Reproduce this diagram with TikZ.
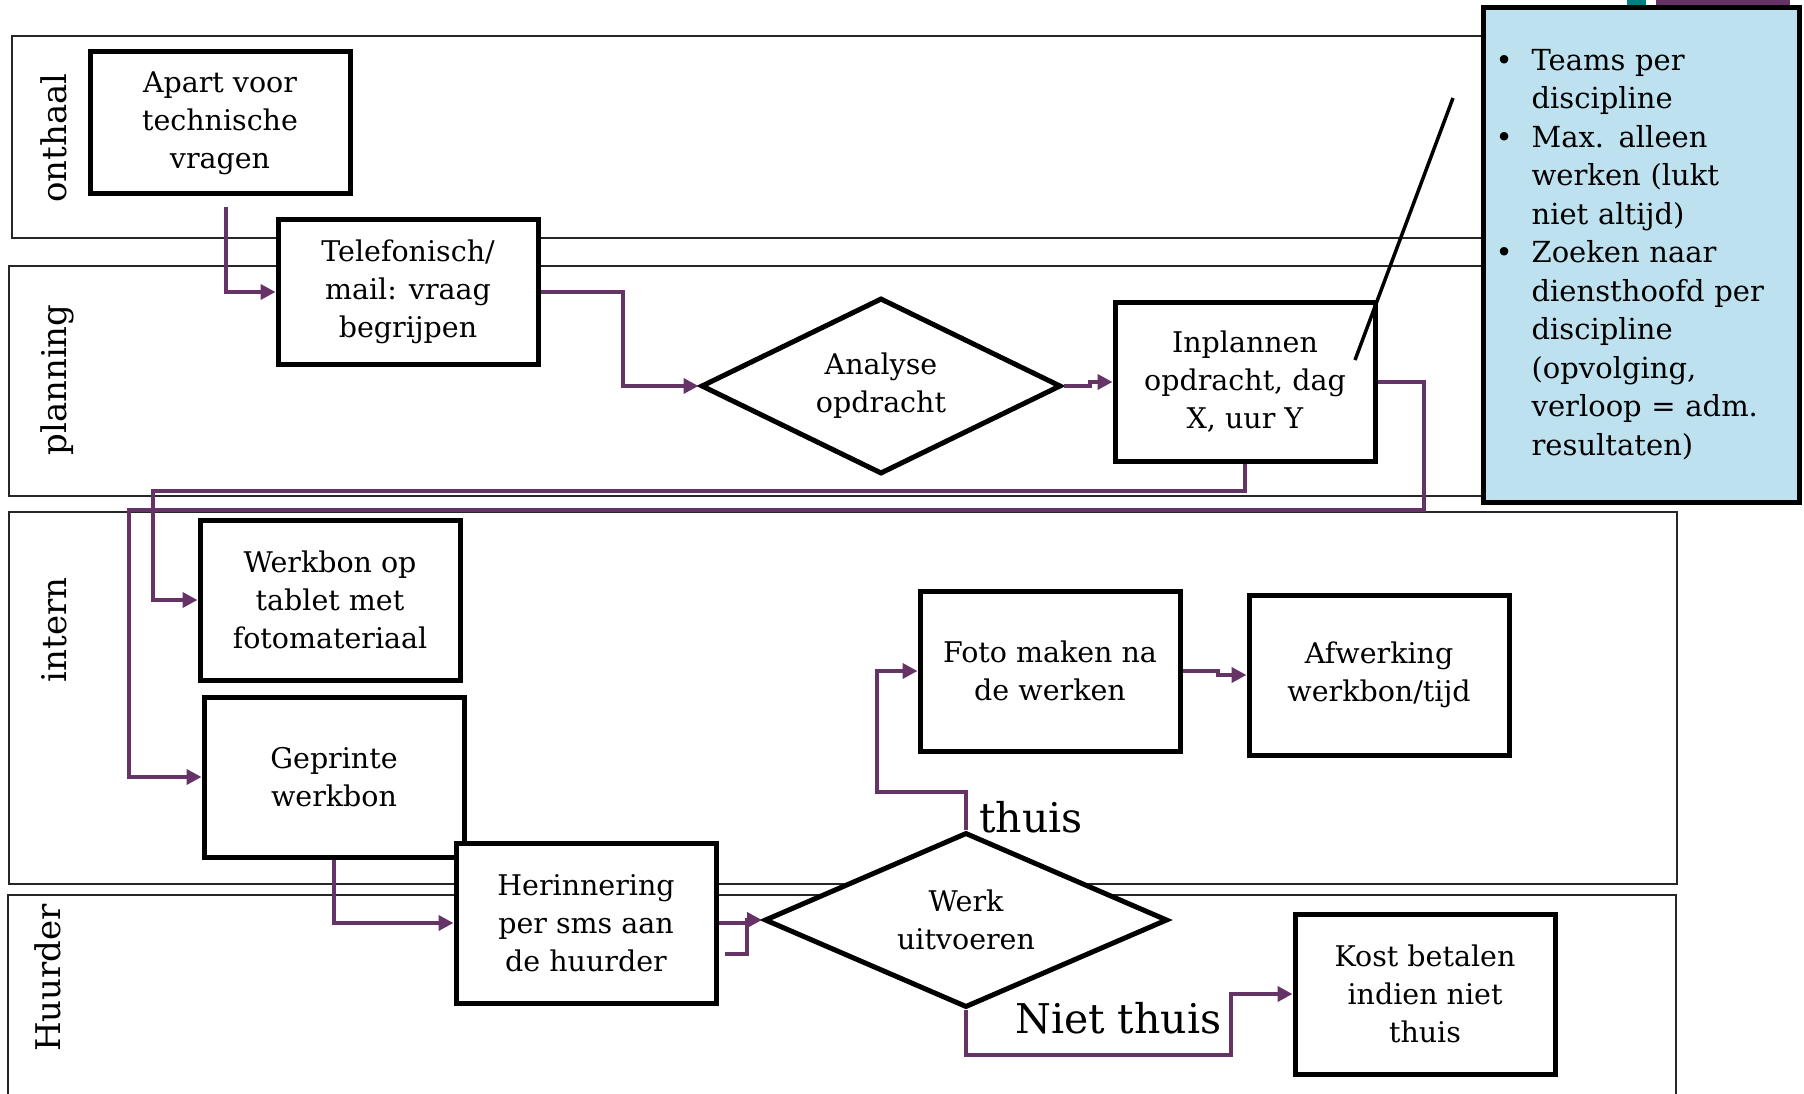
\documentclass[tikz,border=0pt]{standalone}
\usepackage{fontspec}
\setmainfont{DejaVu Serif}
\usepackage{tikz}
\definecolor{flow-purple}{RGB}{102,51,102}
\definecolor{note-blue}{RGB}{189,225,238}
\definecolor{deco-teal}{RGB}{0,128,128}
\usetikzlibrary{shapes.geometric,arrows.meta}
\newcommand*\boxfont{\fontsize{28.5}{38}\selectfont}
\newcommand*\notefont{\fontsize{29}{38.5}\selectfont}
\newcommand*\lanefont{\fontsize{34}{38}\selectfont}
\newcommand*\bul{\textbullet}

\begin{document}
\begin{tikzpicture}[x=1pt,y=-1pt,
		lane/.style={draw=black!85,line width=1.5pt},
		lanelabel/.style={rotate=90,font=\lanefont},
		box/.style={draw,line width=5pt,fill=white,minimum width=260pt,minimum height=160pt,align=center,font=\boxfont,inner sep=0pt},
		decision/.style={diamond,aspect=2,draw,line width=5pt,fill=white,align=center,font=\boxfont,inner sep=0pt},
		flow/.style={draw=flow-purple,line width=4pt,-{Triangle[length=15pt,width=15pt]}},
		flowline/.style={draw=flow-purple,line width=4pt},
		answer/.style={font=\fontsize{41}{46}\selectfont,inner sep=0pt}]
		\useasboundingbox (0,0) rectangle (1804,1094);
		\draw[lane] (12,36) rectangle (1677,238);
		\draw[lane] (9,266) rectangle (1677,496);
		\draw[lane] (9,512) rectangle (1677,884);
		\draw[lane] (8,895) rectangle (1676,1120);
		\node[lanelabel] (onthaal) at (54,138) {onthaal};
		\node[lanelabel] (planning) at (57,380) {planning};
		\node[lanelabel] (intern) at (54,630) {intern};
		\node[lanelabel] (huurder) at (48,978) {Huurder};
		\node[box,minimum height=142pt] (apart) at (220,123) {Apart voor\\technische\\vragen};
		\node[box,minimum height=144pt] (telefonisch) at (408,292) {Telefonisch/\\mail: vraag\\begrijpen};
		\node[decision,minimum width=360pt,minimum height=176pt] (analyse) at (881,386) {Analyse\\opdracht};
		\node[box,minimum height=159pt] (inplannen) at (1245,382) {Inplannen\\opdracht, dag\\X, uur Y};
		\node[box] (tablet) at (330,600) {Werkbon op\\tablet met\\fotomateriaal};
		\node[box] (geprint) at (334,777) {Geprinte\\werkbon};
		\node[box] (foto) at (1050,671) {Foto maken na\\de werken};
		\node[box] (afwerking) at (1379,675) {Afwerking\\werkbon/tijd};
		\node[box] (herinnering) at (586,923) {Herinnering\\per sms aan\\de huurder};
		\node[decision,minimum width=403pt,minimum height=175pt] (werk) at (966,920) {Werk\\uitvoeren};
		\node[box] (kost) at (1425,994) {Kost betalen\\indien niet\\thuis};
		\coordinate (d1) at (153,491);
		\coordinate (e1) at (1424,510);
		\coordinate (e2) at (129,510);
		\coordinate (h1) at (877,792);
		\coordinate (j1) at (1231,1055);
		\draw[flow] ([xshift=6pt,yshift=-11pt]apart.south) |- (telefonisch.west);
		\draw[flow] (telefonisch.east) -- ++(82,0) |- (analyse.west);
		\draw[flow] (analyse.east) -- ++(26,0) |- (inplannen.west);
		\draw[flow] (inplannen.south) |- (d1) |- (tablet.west);
		\draw[flow] (inplannen.east) -| (e1) -- (e2) |- (geprint.west);
		\draw[flow] (geprint.south) |- (herinnering.west);
		\draw[flow] (herinnering.east) -- ++(28,0) |- (werk.west);
		\draw[flowline] ([xshift=28pt]herinnering.east) |- ([xshift=6pt,yshift=-31pt]herinnering.east);
		\draw[flow] (werk.north) |- (h1) |- (foto.west);
		\draw[flow] (foto.east) -- ++(35,0) |- (afwerking.west);
		\draw[flow] (werk.south) |- (j1) |- (kost.west);
		\node[answer,anchor=west] (thuis) at (979,817) {thuis};
		\node[answer,anchor=west] (nietthuis) at (1015,1018) {Niet thuis};
		\coordinate (calltop) at (1453,98);
		\coordinate (callend) at (1355,360);
		\draw[line width=3.5pt] (calltop) -- (callend);
		\fill[deco-teal] (1627,0) rectangle (1646,5);
		\fill[flow-purple] (1656,0) rectangle (1790,5);
		\node[draw,line width=5pt,fill=note-blue,anchor=north west,minimum width=316pt,minimum height=495pt,inner xsep=12pt,text width=292pt,align=left,font=\notefont] (note) at (1481,5)
			{\begin{tabular}{@{}l@{\hspace{19pt}}l@{}}
			\bul & Teams per\\
			& discipline\\
			\bul & Max. alleen\\
			& werken (lukt\\
			& niet altijd)\\
			\bul & Zoeken naar\\
			& diensthoofd per\\
			& discipline\\
			& (opvolging,\\
			& verloop = adm.\\
			& resultaten)
			\end{tabular}};
\end{tikzpicture}
\end{document}
